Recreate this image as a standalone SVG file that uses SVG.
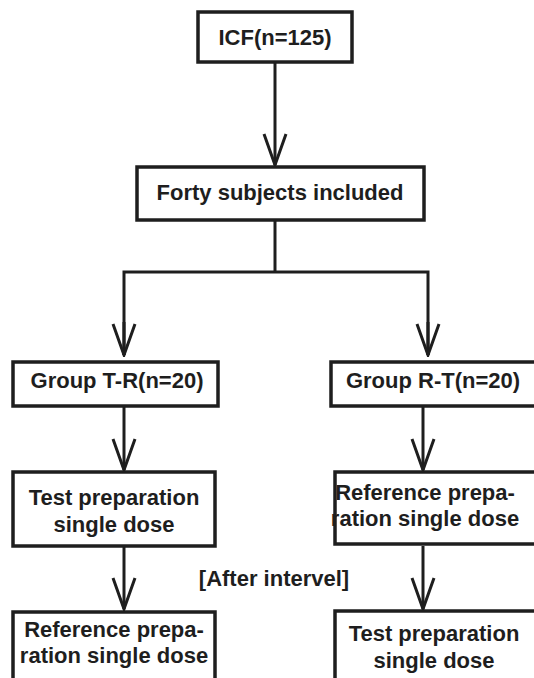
<svg xmlns="http://www.w3.org/2000/svg" width="534" height="678" viewBox="0 0 534 678">
<style>
.box{fill:#fff;stroke:#1e1e1e;stroke-width:3.5}
.t{font-family:"Liberation Sans",Arial,sans-serif;font-weight:bold;font-size:22px;fill:#1e1e1e;text-anchor:middle}
.c{fill:none;stroke:#1e1e1e;stroke-width:3;stroke-linejoin:miter}
</style>
<defs>
<marker id="v" markerWidth="34" markerHeight="26" refX="32" refY="13" orient="auto" markerUnits="userSpaceOnUse" viewBox="0 0 34 26">
<polyline points="1,2 32,13 1,24" fill="none" stroke="#1e1e1e" stroke-width="3"/>
</marker>
</defs>
<rect width="534" height="678" fill="#fff"/>
<g id="connectors">
<line class="c" x1="275" y1="62" x2="275" y2="165" marker-end="url(#v)"/>
<polyline class="c" points="275,220 275,272"/>
<polyline class="c" points="124,355 124,272 428,272 428,355"/>
<line class="c" x1="124" y1="322" x2="124" y2="355" marker-end="url(#v)"/>
<line class="c" x1="428" y1="322" x2="428" y2="355" marker-end="url(#v)"/>
<line class="c" x1="124" y1="406" x2="124" y2="470" marker-end="url(#v)"/>
<line class="c" x1="423" y1="406" x2="423" y2="470" marker-end="url(#v)"/>
<line class="c" x1="124" y1="546" x2="124" y2="609" marker-end="url(#v)"/>
<line class="c" x1="423" y1="546" x2="423" y2="609" marker-end="url(#v)"/>
</g>
<g id="icf">
<rect class="box" x="198" y="12" width="154" height="50"/>
<text class="t" x="275" y="45">ICF(n=125)</text>
</g>
<g id="forty">
<rect class="box" x="137" y="167" width="287" height="53"/>
<text class="t" x="280" y="200">Forty subjects included</text>
</g>
<g id="group-tr">
<rect class="box" x="13" y="362" width="205" height="44"/>
<text class="t" x="117" y="388">Group T-R(n=20)</text>
</g>
<g id="group-rt">
<rect class="box" x="331" y="362" width="210" height="44"/>
<text class="t" x="433" y="388">Group R-T(n=20)</text>
</g>
<g id="test-left">
<rect class="box" x="13" y="472" width="202" height="74"/>
<text class="t" x="114" y="505">Test preparation</text>
<text class="t" x="114" y="532">single dose</text>
</g>
<g id="ref-right">
<rect class="box" x="335" y="472" width="206" height="72"/>
<text class="t" x="425" y="500">Reference prepa-</text>
<text class="t" x="425" y="526">ration single dose</text>
</g>
<g id="interval">
<text class="t" x="274" y="586">[After intervel]</text>
</g>
<g id="ref-left">
<rect class="box" x="13" y="612" width="202" height="80"/>
<text class="t" x="114" y="637">Reference prepa-</text>
<text class="t" x="114" y="663">ration single dose</text>
</g>
<g id="test-right">
<rect class="box" x="335" y="611" width="206" height="80"/>
<text class="t" x="434" y="641">Test preparation</text>
<text class="t" x="434" y="668">single dose</text>
</g>
</svg>
